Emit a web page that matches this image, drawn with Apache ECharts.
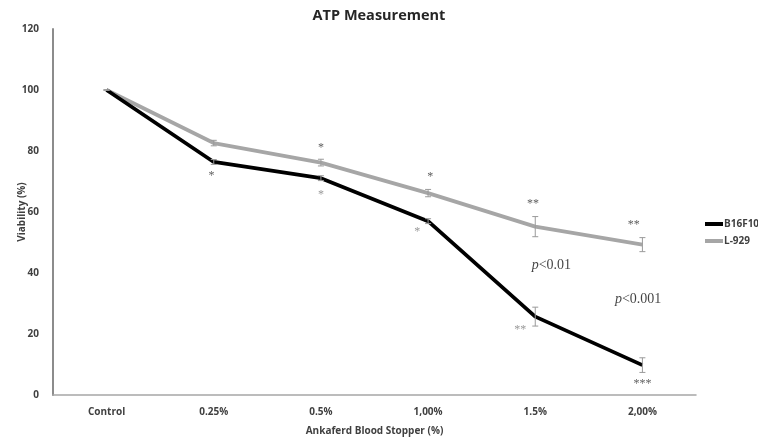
<!DOCTYPE html>
<html><head><meta charset="utf-8">
<script src="https://cdn.jsdelivr.net/npm/echarts@6/dist/echarts.min.js"></script>
<style>html,body{margin:0;padding:0;background:#fff}#c{width:758px;height:439px}</style>
</head><body><div id="c"></div>
<script>
const categories = ['Control', '0.25%', '0.5%', '1,00%', '1.5%', '2,00%'];
const b16f10 = [100, 76.4, 71.1, 57.0, 25.7, 9.8];
const b16f10Err = [0, 0.8, 0.8, 0.8, 3.1, 2.4];
const l929 = [100, 82.6, 76.2, 66.2, 55.2, 49.3];
const l929Err = [0, 0.9, 1.1, 1.2, 3.3, 2.3];
const yTicks = [0, 20, 40, 60, 80, 100, 120];
// significance annotations: [category position, y value, text]
const starsDark = [[2.0, 81, '*'], [3.02, 71.5, '*'], [3.98, 62.6, '**'], [4.92, 55.8, '**'], [5.0, 3.6, '***'], [0.98, 71.8, '*']];
const starsLight = [[2.0, 65.6, '*'], [2.9, 53.4, '*'], [3.86, 21.3, '**']];
const pNotes = [[4.15, 42.6, 'p', '<0.01'], [4.96, 31.5, 'p', '<0.001']];

const chart = echarts.init(document.getElementById('c'));
function errSeries(vals, errs, color) {
  return {
    type: 'custom', silent: true, z: 3,
    data: vals.map((v, i) => [i, v - errs[i], v + errs[i]]),
    renderItem: function (params, api) {
      const x = api.value(0);
      const lo = api.coord([x, api.value(1)]);
      const hi = api.coord([x, api.value(2)]);
      const w = 3;
      const st = { stroke: color, lineWidth: 1 };
      return { type: 'group', children: [
        { type: 'line', shape: { x1: lo[0], y1: lo[1], x2: hi[0], y2: hi[1] }, style: st },
        { type: 'line', shape: { x1: lo[0] - w, y1: lo[1], x2: lo[0] + w, y2: lo[1] }, style: st },
        { type: 'line', shape: { x1: hi[0] - w, y1: hi[1], x2: hi[0] + w, y2: hi[1] }, style: st }
      ]};
    }
  };
}
function labelSeries(data, color, size) {
  return {
    type: 'scatter', silent: true, symbolSize: 1, z: 5, xAxisIndex: 1,
    itemStyle: { color: 'rgba(0,0,0,0)' },
    data: data.map(d => ({ value: [d[0], d[1]], name: d[2] })),
    label: { show: true, position: 'inside', formatter: p => p.name, color: color,
      fontSize: size, fontFamily: 'Liberation Serif', fontWeight: 'normal' }
  };
}
chart.setOption({
  animation: false,
  backgroundColor: '#fff',
  title: { text: 'ATP Measurement', left: 'center', top: 3,
    textStyle: { fontSize: 14.5, fontWeight: 'bold', color: '#262626', fontFamily: 'Open Sans' } },
  legend: {
    data: ['B16F10', 'L-929'], orient: 'vertical', left: 705, top: 219, itemGap: 7, padding: 0,
    itemWidth: 18, itemHeight: 4, icon: 'rect',
    textStyle: { fontSize: 10, fontWeight: 'bold', color: '#404040', fontFamily: 'Open Sans', padding: [0, 0, 0, -4] }
  },
  grid: { left: 53, right: 62, top: 29, bottom: 44, outerBoundsMode: 'none', containLabel: false },
  xAxis: [{
    type: 'category', data: categories, boundaryGap: true,
    name: 'Ankaferd Blood Stopper (%)', nameLocation: 'middle', nameGap: 31,
    nameTextStyle: { fontSize: 10, fontWeight: 'bold', color: '#404040', fontFamily: 'Open Sans' },
    axisLine: { onZero: false, lineStyle: { color: '#a6a6a6', width: 1.5 } },
    axisTick: { show: false },
    axisLabel: { fontSize: 10, fontWeight: 'bold', color: '#404040', fontFamily: 'Open Sans', margin: 12 }
  }, {
    type: 'value', min: -0.5, max: 5.5, show: false
  }],
  yAxis: {
    type: 'value', min: 0, max: 120, interval: 20,
    name: 'Viability (%)', nameLocation: 'middle', nameGap: 26, nameRotate: 90, nameMoveOverlap: false,
    nameTextStyle: { fontSize: 10, fontWeight: 'bold', color: '#404040', fontFamily: 'Open Sans' },
    axisLine: { show: true, onZero: false, lineStyle: { color: '#8c8c8c', width: 2 } },
    axisTick: { show: false },
    splitLine: { show: false },
    axisLabel: { fontSize: 10, fontWeight: 'bold', color: '#404040', fontFamily: 'Open Sans', margin: 14,
      formatter: v => yTicks.includes(v) ? String(v) : '' }
  },
  series: [
    { name: 'B16F10', type: 'line', data: b16f10, symbol: 'none', z: 2,
      lineStyle: { color: '#000', width: 3.8 }, itemStyle: { color: '#000' } },
    { name: 'L-929', type: 'line', data: l929, symbol: 'none', z: 1,
      lineStyle: { color: '#a6a6a6', width: 3.8 }, itemStyle: { color: '#a6a6a6' } },
    errSeries(b16f10, b16f10Err, '#9a9a9a'),
    errSeries(l929, l929Err, '#9a9a9a'),
    labelSeries(starsDark, '#333', 12),
    labelSeries(starsLight, '#808080', 12),
    {
      type: 'scatter', silent: true, symbolSize: 1, z: 5, xAxisIndex: 1,
      itemStyle: { color: 'rgba(0,0,0,0)' },
      data: pNotes.map(d => ({ value: [d[0], d[1]], p: d[2], t: d[3] })),
      label: { show: true, position: 'inside',
        formatter: p => '{i|' + p.data.p + '}{n|' + p.data.t + '}',
        rich: {
          i: { fontFamily: 'Liberation Serif', fontStyle: 'italic', fontSize: 14, color: '#111' },
          n: { fontFamily: 'Liberation Serif', fontSize: 14, color: '#111' }
        } }
    }
  ]
});
</script></body></html>
